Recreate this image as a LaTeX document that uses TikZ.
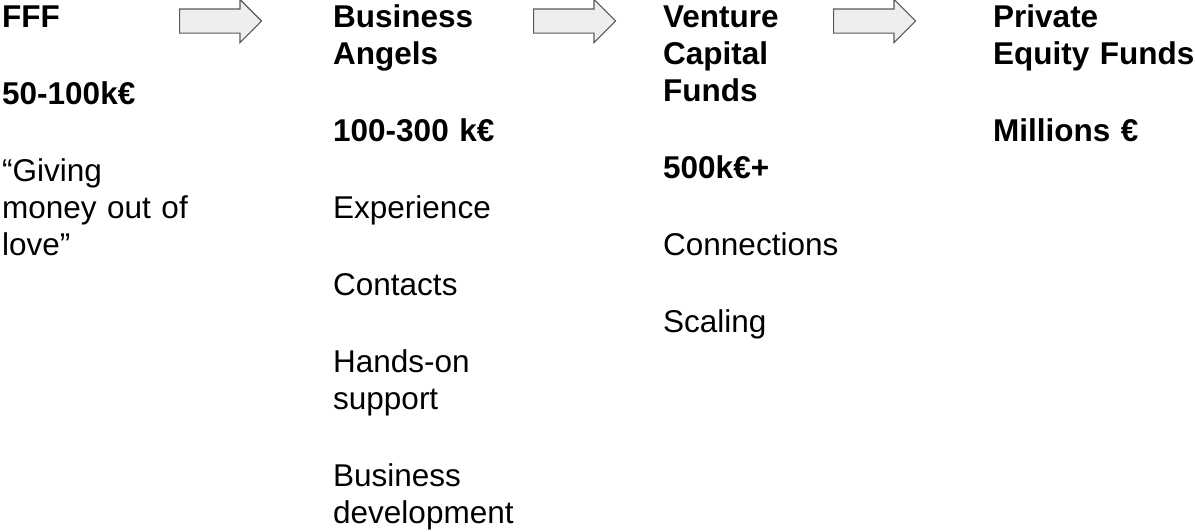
\documentclass[tikz,border=0pt]{standalone}
\usepackage{fontspec}
\setmainfont{Liberation Sans}
\usetikzlibrary{shapes.arrows}
\definecolor{arrowfill}{HTML}{EEEEEE}
\definecolor{arrowline}{HTML}{595959}
\begin{document}
\begin{tikzpicture}[
  colblock/.style = {anchor = base west, inner sep = 0pt, align = left, text width = 320pt, font = \fontsize{31.5}{37}\selectfont},
  arrowblock/.style = {single arrow, anchor = tail, draw = arrowline, fill = arrowfill, line width = 1.2pt, inner xsep = 0pt, inner ysep = 11.5pt, single arrow head extend = 9.5pt, single arrow head indent = 0pt, minimum height = 82pt},
  x = 1pt,
  y = -1pt
]
  \useasboundingbox (0, 0) rectangle (1195, 531);
  \node[colblock] (fff) at (2, 27) {\textbf{FFF}\\[40pt]\textbf{50-100k€}\\[40pt]“Giving\\money out of\\love”};
  \node[colblock] (ba) at (333, 27) {\textbf{Business}\\\textbf{Angels}\\[40pt]\textbf{100-300 k€}\\[40pt]Experience\\[40pt]Contacts\\[40pt]Hands-on\\support\\[40pt]Business\\development};
  \node[colblock] (vc) at (663, 27) {\textbf{Venture}\\\textbf{Capital}\\\textbf{Funds}\\[40pt]\textbf{500k€+}\\[40pt]Connections\\[40pt]Scaling};
  \node[colblock] (pe) at (993, 27) {\textbf{Private}\\\textbf{Equity Funds}\\[40pt]\textbf{Millions €}};

  \node[arrowblock] (a1) at (179, 21) {};
  \node[arrowblock] (a2) at (533, 21) {};
  \node[arrowblock] (a3) at (833, 21) {};
\end{tikzpicture}
\end{document}
